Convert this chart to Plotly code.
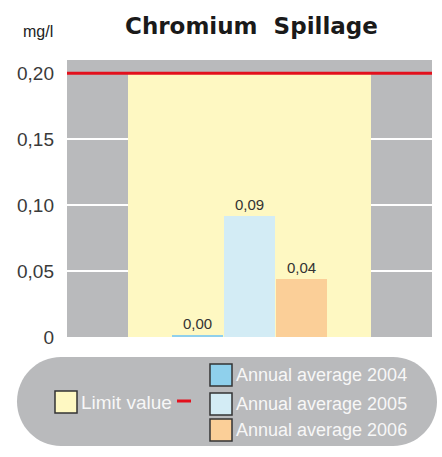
import plotly.graph_objects as go

# ---- data ----
years = ["2004", "2005", "2006"]
values = [0.0015, 0.092, 0.044]
series_names = ["Annual average 2004", "Annual average 2005", "Annual average 2006"]
limit_value = 0.20
limit_name = "Limit value"
tick_vals = [0, 0.05, 0.10, 0.15, 0.20]
tick_text = ["0", "0,05", "0,10", "0,15", "0,20"]
title_text = "Chromium  Spillage"
unit_text = "mg/l"

bar_colors = ["#8fd0ec", "#d3ecf5", "#fbcf98"]
limit_fill = "#fef8c2"
limit_line = "#e3101c"
bg_gray = "#b9babc"

W, H = 442, 457
ML, MR, MT, MB = 67, 10, 60, 120
PW, PH = W - ML - MR, H - MT - MB


def px(x):
    return (x - ML) / PW


def py(y):
    return (H - MB - y) / PH


fig = go.Figure()

# limit value background bar
fig.add_trace(go.Bar(
    x=[years[1]], y=[limit_value], width=[4.69],
    marker=dict(color=limit_fill, line=dict(width=0)),
    name=limit_name, showlegend=False, hoverinfo="skip",
))

for yr, v, c, n in zip(years, values, bar_colors, series_names):
    fig.add_trace(go.Bar(
        x=[yr], y=[v], width=[0.99],
        marker=dict(color=c, line=dict(width=0)),
        name=n, showlegend=False,
        texttemplate="%{y:.2f}", textposition="outside",
        textfont=dict(family="Liberation Sans", size=15, color="#333333"),
        cliponaxis=False,
    ))

shapes = []
# red limit line
shapes.append(dict(type="line", xref="paper", x0=0, x1=1, yref="y",
                   y0=limit_value, y1=limit_value,
                   line=dict(color=limit_line, width=3), layer="above"))

# legend pill
x0, x1, y0, y1 = 17, 437, 357, 446
r = 44
ry = (y1 - y0) / 2
cy = (y0 + y1) / 2
k = 0.5523


def P(x, y):
    return f"{px(x):.5f},{py(y):.5f}"


path = (
    f"M {P(x0 + r, y0)} L {P(x1 - r, y0)} "
    f"C {P(x1 - r + k * r, y0)} {P(x1, cy - k * ry)} {P(x1, cy)} "
    f"C {P(x1, cy + k * ry)} {P(x1 - r + k * r, y1)} {P(x1 - r, y1)} "
    f"L {P(x0 + r, y1)} "
    f"C {P(x0 + r - k * r, y1)} {P(x0, cy + k * ry)} {P(x0, cy)} "
    f"C {P(x0, cy - k * ry)} {P(x0 + r - k * r, y0)} {P(x0 + r, y0)} Z"
)
shapes.append(dict(type="path", xref="paper", yref="paper", path=path,
                   fillcolor=bg_gray, line=dict(width=0), layer="below"))

annotations = []


def square(xa, ya, color):
    shapes.append(dict(type="rect", xref="paper", yref="paper",
                       x0=px(xa), x1=px(xa + 22), y0=py(ya), y1=py(ya + 22),
                       fillcolor=color, line=dict(color="#333333", width=1.5)))


legend_font = dict(family="Liberation Sans", size=18, color="#f7f7f7")

# limit value entry
square(55, 391, limit_fill)
annotations.append(dict(text=limit_name, xref="paper", yref="paper",
                        x=px(79), y=py(402), xanchor="left", yanchor="middle",
                        showarrow=False, font=dict(family="Liberation Sans", size=19, color="#f7f7f7")))
shapes.append(dict(type="line", xref="paper", yref="paper",
                   x0=px(177), x1=px(191), y0=py(401), y1=py(401),
                   line=dict(color=limit_line, width=3)))

# series entries
for i, (n, c) in enumerate(zip(series_names, bar_colors)):
    top = [364, 393, 419][i]
    square(210, top, c)
    annotations.append(dict(text=n, xref="paper", yref="paper",
                            x=px(234), y=py(top + 11), xanchor="left", yanchor="middle",
                            showarrow=False, font=legend_font))

# title and unit
annotations.append(dict(text=title_text, xref="paper", yref="paper",
                        x=px(251), y=py(26), xanchor="center", yanchor="middle",
                        showarrow=False,
                        font=dict(family="DejaVu Sans", size=23, color="#1a1a1a", weight="bold")))
annotations.append(dict(text=unit_text, xref="paper", yref="paper",
                        x=px(38), y=py(32), xanchor="center", yanchor="middle",
                        showarrow=False,
                        font=dict(family="Liberation Sans", size=16, color="#222222")))

fig.update_layout(
    width=W, height=H, autosize=False,
    margin=dict(l=ML, r=MR, t=MT, b=MB, pad=0),
    paper_bgcolor="white", plot_bgcolor=bg_gray,
    barmode="overlay", bargap=0,
    separators=",.",
    showlegend=False,
    shapes=shapes, annotations=annotations,
    xaxis=dict(type="category", categoryorder="array", categoryarray=years,
               range=[-2.51, 4.51], showticklabels=False, showgrid=False,
               zeroline=False, showline=False, ticks=""),
    yaxis=dict(range=[0, 0.21], tickvals=tick_vals, ticktext=tick_text,
               showgrid=True, gridcolor="white", gridwidth=1.5,
               zeroline=False, showline=False, ticks="",
               ticklabelstandoff=12,
               tickfont=dict(family="Liberation Sans", size=19, color="#3a3a3a")),
)

fig.write_html("out.html")
